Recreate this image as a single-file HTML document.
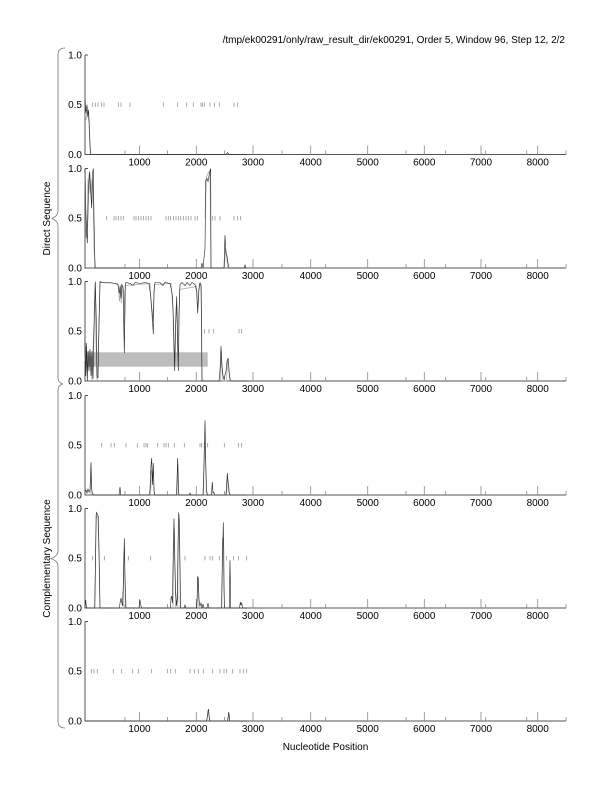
<!DOCTYPE html>
<html><head><meta charset="utf-8"><style>
html,body{margin:0;padding:0;background:#fff;}
svg{display:block;}
text{font-family:"Liberation Sans",sans-serif;font-size:10px;fill:#000;}
.ax{stroke:#555;stroke-width:1;fill:none;}
.tk{stroke:#888;stroke-width:0.8;}
.mk{stroke:#888;stroke-width:0.7;}
.b{fill:none;stroke:#222;stroke-width:0.6;vector-effect:non-scaling-stroke;}
.g{fill:none;stroke:#aaa;stroke-width:0.8;vector-effect:non-scaling-stroke;}
.br{fill:none;stroke:#777;stroke-width:0.8;}
</style></head><body>
<svg width="612" height="792" viewBox="0 0 612 792" xmlns="http://www.w3.org/2000/svg">
<defs>
<g id="axis">
  <path class="ax" d="M85,-99.5 V0 H566"/>
  <path class="ax" d="M85,-99.5 H88"/>
  <path class="tk" d="M139.5,0 v-9 M196.3,0 v-9 M253,0 v-9 M310.7,0 v-9 M367.7,0 v-9 M424.3,0 v-9 M481,0 v-9 M537.7,0 v-9 M566,0 v-4
  M125,0 v-4 M167.5,0 v-4 M224.5,0 v-4 M282,0 v-4 M325.7,0 v-4 M406,0 v-4 M445.7,0 v-4 M485.7,0 v-4 M526.7,0 v-4"/>
  <text x="82" y="3.5" text-anchor="end">0.0</text>
  <text x="82" y="-46.3" text-anchor="end">0.5</text>
  <text x="82" y="-96" text-anchor="end">1.0</text>
  <text x="139.5" y="11" text-anchor="middle">1000</text>
  <text x="196.3" y="11" text-anchor="middle">2000</text>
  <text x="253" y="11" text-anchor="middle">3000</text>
  <text x="310.7" y="11" text-anchor="middle">4000</text>
  <text x="367.7" y="11" text-anchor="middle">5000</text>
  <text x="424.3" y="11" text-anchor="middle">6000</text>
  <text x="481" y="11" text-anchor="middle">7000</text>
  <text x="537.7" y="11" text-anchor="middle">8000</text>
</g>
</defs>

<text x="565" y="43" text-anchor="end">/tmp/ek00291/only/raw_result_dir/ek00291, Order 5, Window 96, Step 12, 2/2</text>

<!-- braces -->
<path class="br" d="M65,48 Q58,48 58,55 V211 Q58,216 52,218.5 Q58,221 58,226 V377 Q58,383 63,384 Q58,385 58,391 V551 Q58,556 51,558.5 Q58,561 58,566 V721 Q58,728 65,728"/>
<text transform="translate(50,218.5) rotate(-90)" text-anchor="middle">Direct Sequence</text>
<text transform="translate(50,558.5) rotate(-90)" text-anchor="middle">Complementary Sequence</text>

<text x="325.5" y="750" text-anchor="middle">Nucleotide Position</text>

<!-- Panel 1 -->
<g transform="translate(0,154.5)">
  <use href="#axis"/>
  <path class="mk" d="M92.7,-52 v4.4 M95.3,-52 v4.4 M98,-52 v4.4 M101.7,-52 v4.4 M104,-52 v4.4 M118.3,-52 v4.4 M121,-52 v4.4 M130,-52 v4.4 M163.3,-52 v4.4 M177.7,-52 v4.4 M186.7,-52 v4.4 M193.3,-52 v4.4 M201,-52 v4.4 M202.7,-52 v4.4 M204.3,-52 v4.4 M210,-52 v4.4 M214.3,-52 v4.4 M219.3,-52 v4.4 M234,-52 v4.4 M237.3,-52 v4.4"/>
  <g transform="scale(1,-99.5)">
    <polyline class="g" points="85,0.4 86,0.35 87,0.45 88,0.38 89,0.32 90,0.05 91,0"/>
    <polyline class="b" points="85,0.55 86,0.42 87,0.5 87.8,0.38 88.5,0.45 89.3,0.3 90,0.1 90.7,0 226,0 227.5,0.02 229,0 247,0"/>
  </g>
</g>

<!-- Panel 2 -->
<g transform="translate(0,268)">
  <use href="#axis"/>
  <path class="mk" d="M106.7,-52 v4.4 M114,-52 v4.4 M116,-52 v4.4 M118.3,-52 v4.4 M121,-52 v4.4 M123.3,-52 v4.4 M134,-52 v4.4 M136,-52 v4.4 M138.3,-52 v4.4 M141,-52 v4.4 M143.3,-52 v4.4 M146,-52 v4.4 M148.3,-52 v4.4 M151,-52 v4.4 M166,-52 v4.4 M168.3,-52 v4.4 M170.7,-52 v4.4 M173.3,-52 v4.4 M176,-52 v4.4 M178.3,-52 v4.4 M180.7,-52 v4.4 M183.3,-52 v4.4 M186,-52 v4.4 M188.3,-52 v4.4 M191,-52 v4.4 M195,-52 v4.4 M197.3,-52 v4.4 M212.7,-52 v4.4 M215,-52 v4.4 M220,-52 v4.4 M234,-52 v4.4 M237.3,-52 v4.4 M240.7,-52 v4.4"/>
  <g transform="scale(1,-99.5)">
    <polyline class="g" points="85,0.95 86,0.3 87,0.4 88,0.9 89,0.75 90,0.95 91,0.7 92,0.9 93,0.8 94,0.2 95.5,0"/>
    <polyline class="g" points="205,0.5 206.5,0.92 208,0.95 210,0.98 210.7,0.3 211,0"/>
    <polyline class="g" points="224.5,0 225.5,0.2 226.5,0.12 228,0"/>
    <polyline class="b" points="85,1.0 86,0.5 87.3,0.25 88.3,0.7 89.3,0.97 90.3,0.85 91.7,0.6 92.5,0.95 93.3,1.0 94,0.5 95,0 201,0 202,0.05 203,0 205,0.2 205.7,0.88 207,0.9 208,0.87 209.5,0.95 210.7,1.0 211,0 224,0 225,0.33 226,0.15 227,0.12 228,0.05 229,0 244,0 245,0.03 246,0 247,0"/>
  </g>
</g>

<!-- Panel 3 -->
<g transform="translate(0,381)">
  <rect x="85" y="-28.7" width="122.7" height="14.4" fill="#bdbdbd"/>
  <use href="#axis"/>
  <path class="mk" d="M204.3,-52 v4.4 M209,-52 v4.4 M213.3,-52 v4.4 M239,-52 v4.4 M241.7,-52 v4.4"/>
  <g transform="scale(1,-99.5)">
    <polyline class="g" points="85,0.2 86,0.35 87,0.1 88,0.2 89,0.3 90,0.15 91,0.25 92,0 93,0.3 94,0.6 95,0.98 96,0.4 97,0 99,0.5 100,0.99 118,0.98 119.5,0.8 120.5,0.92 121.3,0.78 122,0.96 124,0.9 124.6,0.5 125.2,0.96 150,0.98 151,0.8 152.5,0.6 153.5,0.75 154.5,0.97 171,0.98 172,0.86 173,0.7 174,0.15 175,0.3 176,0.75 177,0.65 178,0.15 178.8,0.4 179.7,0.92 196.5,0.95 197.3,0.75 198.3,0.8 199.3,0.97 201.3,0.97 201.8,0.3 202.2,0"/>
    <polyline class="g" points="220.5,0 221.3,0.3 222.3,0.1 223,0 226.5,0 227.5,0.2 228.5,0.18 229.5,0.05 230,0"/>
    <polyline class="b" points="85,0.4 85.8,0.05 86.5,0.38 87.3,0 88,0.3 89,0.1 90,0.32 91,0.05 92,0.3 93,0.02 94,0.5 95.3,1.0 96.3,0.6 97,0.05 98,0.03 99,0.6 100,1.0 102,0.99 110,0.99 115,0.98 118,0.97 119.3,0.88 120.2,0.96 121,0.83 121.8,0.97 123,0.95 124.3,0.28 125.3,0.97 126,0.99 130,0.98 133,0.96 135,0.99 140,0.98 145,0.99 149,0.98 150.7,0.85 152,0.7 153.3,0.47 154,0.9 155,0.99 160,0.99 163,0.96 165,0.99 170,0.98 171.7,0.9 172.5,0.85 173.5,0.6 174.7,0.1 175.5,0.5 176.7,0.85 177.5,0.5 178.3,0.1 179,0.7 180,0.97 182,0.99 185,0.96 187,0.99 190,0.96 192,0.99 195,0.97 196.7,0.9 197.7,0.68 198.7,0.9 200,0.99 201,0.95 201.5,0.5 202,0 219,0 220,0.1 221,0.35 222,0.15 223,0.05 224,0.02 226,0.1 227,0.2 228.3,0.23 229,0.1 230,0.02 231,0 247,0"/>
  </g>
</g>

<!-- Panel 4 -->
<g transform="translate(0,495)">
  <use href="#axis"/>
  <path class="mk" d="M101.7,-52 v4.4 M111,-52 v4.4 M114.3,-52 v4.4 M126,-52 v4.4 M137.3,-52 v4.4 M144,-52 v4.4 M146,-52 v4.4 M147.7,-52 v4.4 M157.7,-52 v4.4 M164,-52 v4.4 M166,-52 v4.4 M168.3,-52 v4.4 M174.3,-52 v4.4 M184.3,-52 v4.4 M200,-52 v4.4 M201.7,-52 v4.4 M204.3,-52 v4.4 M207.7,-52 v4.4 M224.3,-52 v4.4 M238.3,-52 v4.4 M241.7,-52 v4.4"/>
  <g transform="scale(1,-99.5)">
    <polyline class="g" points="90,0 91,0.25 92,0"/>
    <polyline class="g" points="150.5,0 151.5,0.25 152.5,0.2 153.5,0.22 154.3,0"/>
    <polyline class="g" points="177,0 177.8,0.3 178.6,0"/>
    <polyline class="g" points="203.5,0 204.3,0.5 205,0.55 205.5,0.4 206.3,0"/>
    <polyline class="g" points="226.5,0 227.5,0.18 228.8,0.08 229.5,0"/>
    <polyline class="b" points="85,0.03 86,0.05 87,0.02 88,0.06 89,0.03 90,0.05 91,0.33 91.7,0.05 92.5,0.02 93.5,0 119,0 120,0.08 120.7,0 149,0 150,0.05 151,0.3 151.7,0.37 152.5,0.1 153.3,0.32 154,0.05 154.7,0 176.5,0 177.7,0.37 178.5,0.05 179,0 189,0 190,0.02 191,0 203,0 204,0.3 205,0.75 205.7,0.35 206.5,0.05 207.5,0 211.5,0 212.3,0.13 213,0.02 213.8,0.03 214.5,0 226,0 227.3,0.22 228.3,0.1 229,0.03 230,0 247,0"/>
  </g>
</g>

<!-- Panel 5 -->
<g transform="translate(0,608)">
  <use href="#axis"/>
  <path class="mk" d="M92.7,-52 v4.4 M104.3,-52 v4.4 M128.3,-52 v4.4 M150.7,-52 v4.4 M185,-52 v4.4 M205,-52 v4.4 M210,-52 v4.4 M212.7,-52 v4.4 M219.3,-52 v4.4 M226.7,-52 v4.4 M233.3,-52 v4.4 M238.3,-52 v4.4 M246.7,-52 v4.4"/>
  <g transform="scale(1,-99.5)">
    <polyline class="g" points="95,0 96,0.93 98,0.9 99.5,0.3 100,0"/>
    <polyline class="g" points="123.3,0 123.8,0.5 124.5,0.6 125.2,0.1 125.6,0"/>
    <polyline class="g" points="173,0 173.5,0.6 174.3,0.8 175,0.4 175.6,0"/>
    <polyline class="g" points="177.8,0 178.3,0.85 179,0.9 179.8,0.5 180.3,0"/>
    <polyline class="g" points="197,0 197.5,0.3 198.5,0.22 199,0"/>
    <polyline class="g" points="221.8,0 222.5,0.7 223,0.7 223.8,0.6 224.3,0"/>
    <polyline class="b" points="85,0 85.7,0.08 86.5,0 94.7,0 95.5,0.5 96.3,0.96 97,0.95 98.3,0.92 99,0.6 100,0 119.5,0 120,0.05 121,0.1 121.7,0.06 122.5,0.02 123.5,0.3 124.3,0.7 125,0.3 126,0 139,0 140,0.08 141,0.02 142,0 170.5,0 171,0.1 171.7,0.12 172.5,0.05 173.3,0.6 174,0.9 174.7,0.5 175.5,0.2 176.5,0.02 177.3,0.1 178,0.6 178.7,0.96 179.3,0.88 180,0.4 180.7,0 184,0 185,0.03 186,0 196.5,0 197.2,0.1 197.7,0.32 198.3,0.3 199,0.08 200,0.02 201,0.05 202,0 203,0.04 204,0 207,0 208,0.05 209,0 221.5,0 222.5,0.5 223.3,0.86 224,0.2 224.5,0 229.2,0 230,0.48 230.7,0 239.5,0 240.3,0.06 241,0.03 241.8,0.05 242.5,0 247,0"/>
  </g>
</g>

<!-- Panel 6 -->
<g transform="translate(0,721)">
  <use href="#axis"/>
  <path class="mk" d="M91.7,-52 v4.4 M94,-52 v4.4 M97.3,-52 v4.4 M113.3,-52 v4.4 M121.7,-52 v4.4 M132.7,-52 v4.4 M138.3,-52 v4.4 M151.7,-52 v4.4 M167.3,-52 v4.4 M170.7,-52 v4.4 M175.7,-52 v4.4 M190,-52 v4.4 M194.3,-52 v4.4 M198.3,-52 v4.4 M203.3,-52 v4.4 M212.7,-52 v4.4 M220,-52 v4.4 M224,-52 v4.4 M226.7,-52 v4.4 M232.7,-52 v4.4 M240,-52 v4.4 M243.3,-52 v4.4 M246.7,-52 v4.4"/>
  <g transform="scale(1,-99.5)">
    <polyline class="g" points="206.8,0 207.8,0.07 208.7,0.09 209.3,0.03 209.8,0"/>
    <polyline class="g" points="227.8,0 228.1,0.04 228.9,0.07 229.5,0"/>
    <polyline class="b" points="85,0 206.5,0 207.3,0.04 208,0.1 208.5,0.12 209,0.06 209.5,0.02 210,0 227.5,0 228.3,0.05 228.7,0.09 229.2,0.06 229.7,0 247,0"/>
  </g>
</g>
</svg>
</body></html>
